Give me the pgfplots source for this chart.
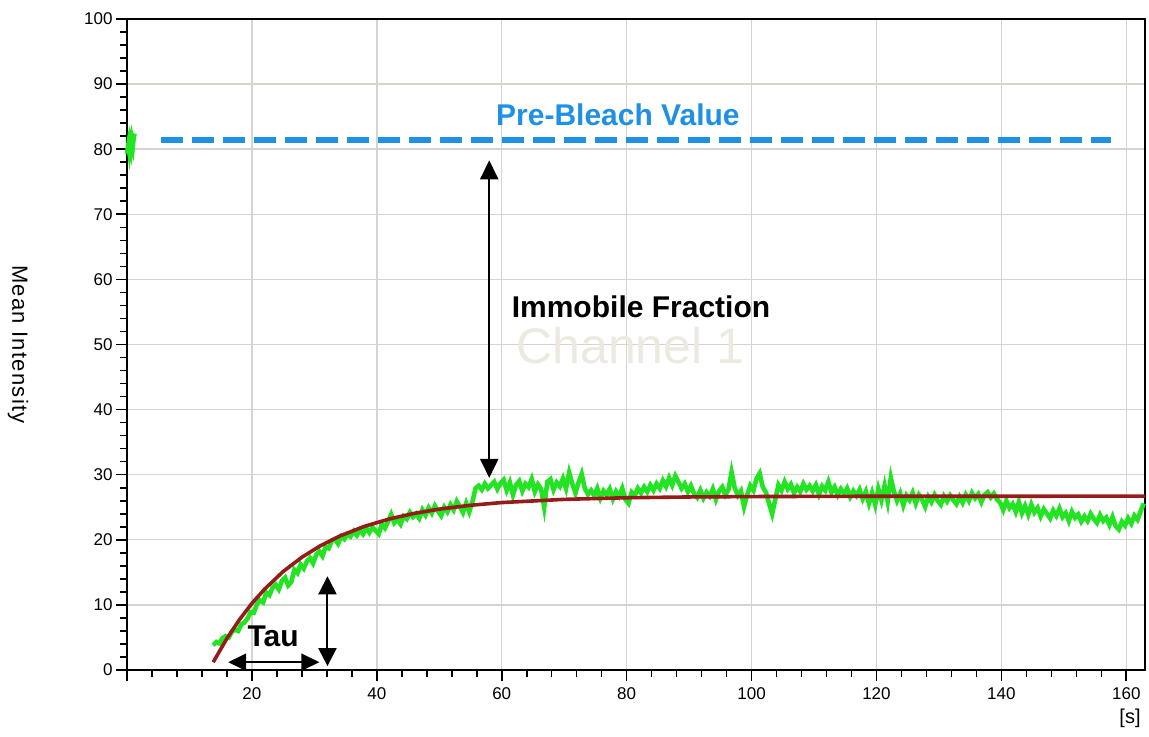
\documentclass[border=0pt]{standalone}
\usepackage{fontspec}
\setmainfont{Liberation Sans}
\usepackage{pgfplots}
\pgfplotsset{compat=1.18}
\usetikzlibrary{arrows.meta,calc}

\definecolor{gridgray}{RGB}{214,212,207}
\definecolor{recov}{RGB}{34,228,34}
\definecolor{fitred}{RGB}{150,28,28}
\definecolor{prebleach}{RGB}{30,144,230}
\definecolor{watermark}{RGB}{236,233,224}

\begin{document}
\begin{tikzpicture}
\begin{axis}[
  name=ax,
  scale only axis,
  width=509pt, height=325.5pt,
  xmin=0, xmax=163, ymin=0, ymax=100,
  xtick={0,20,40,60,80,100,120,140,160},
  xticklabels={,20,40,60,80,100,120,140,160},
  ytick={0,10,...,100},
  minor x tick num=4, minor y tick num=4,
  tick align=outside, tick pos=left,
  major tick length=5.5pt, minor tick length=3.5pt,
  every tick/.style={black, line width=0.8pt},
  axis line style={black, line width=1pt},
  xmajorgrids=true, ymajorgrids=true,
  xminorgrids=false, yminorgrids=false,
  major grid style={gridgray, line width=0.7pt},
  /pgf/number format/assume math mode=true,
  ticklabel style={font=\fontsize{8.5}{10}\selectfont},
  yticklabel style={inner sep=1.5pt},
  clip=false,
]

% fluorescence before the bleach
\addplot[recov, line width=2.3pt] coordinates {
  (0.0,79.3) (0.2,80.6) (0.35,79.6) (0.5,81.0) (0.65,80.1) (0.8,81.4)
  (0.95,80.6) (1.1,82.0) (1.25,82.4)
};

% recovery after the bleach
\addplot[recov, line width=2.3pt] coordinates {
  (13.8,3.8) (14.3,4.3) (14.8,4.1) (15.3,4.9) (15.8,5.2) (16.3,5.0)
  (16.8,5.9) (17.3,6.2) (17.8,6.0) (18.3,7.0) (18.8,7.3) (19.3,7.9)
  (19.8,8.9) (20.3,8.8) (20.8,10.1) (21.3,10.7) (21.8,10.4) (22.3,11.9)
  (22.8,11.5) (23.3,12.6) (23.8,13.1) (24.3,12.4) (24.8,13.7) (25.3,14.2)
  (25.8,13.0) (26.3,13.5) (26.8,15.4) (27.3,14.9) (27.8,16.2) (28.3,15.6)
  (28.8,16.7) (29.3,17.2) (29.8,16.4) (30.3,17.7) (30.8,18.2) (31.3,17.5)
  (31.8,18.9) (32.3,18.7) (32.8,19.9) (33.3,20.1) (33.8,19.4) (34.3,20.5)
  (34.8,20.1) (35.3,20.9) (35.8,20.5) (36.3,21.3) (36.8,20.7) (37.3,21.5)
  (37.8,20.9) (38.3,21.8) (38.8,21.1) (39.3,21.9) (39.8,21.4) (40.3,20.9)
  (40.8,22.4) (41.3,21.8) (41.8,22.8) (42.3,23.9) (42.8,22.6) (43.3,23.1)
  (43.8,22.4) (44.3,23.6) (44.8,23.2) (45.3,24.2) (45.8,23.5) (46.3,24.0)
  (46.8,23.3) (47.3,24.6) (47.8,23.8) (48.3,24.9) (48.8,24.1) (49.3,25.2)
  (49.8,24.4) (50.3,23.7) (50.8,25.0) (51.3,24.3) (51.8,25.4) (52.3,24.6)
  (52.8,25.9) (53.3,25.1) (53.8,24.2) (54.3,25.6) (54.8,24.3) (55.3,25.8)
  (55.8,27.9) (56.3,28.3) (56.8,27.7) (57.3,28.6) (57.8,27.9) (58.3,28.4)
  (58.8,28.9) (59.3,27.8) (59.8,28.7) (60.3,29.2) (60.8,27.6) (61.3,28.8)
  (61.8,26.9) (62.3,28.4) (62.8,29.0) (63.3,27.5) (63.8,28.6) (64.3,28.1)
  (64.8,29.3) (65.3,27.4) (65.8,28.5) (66.3,27.8) (66.8,25.0) (67.3,28.9)
  (67.8,29.3) (68.3,27.7) (68.8,28.8) (69.3,28.2) (69.8,29.4) (70.3,27.9)
  (70.8,30.3) (71.3,28.6) (71.8,27.2) (72.3,28.8) (72.8,30.1) (73.3,27.9)
  (73.8,27.0) (74.3,27.6) (74.8,26.8) (75.3,27.9) (75.8,26.4) (76.3,27.5)
  (76.8,26.9) (77.3,27.8) (77.8,26.3) (78.3,27.4) (78.8,26.7) (79.3,27.9)
  (79.8,26.2) (80.3,25.6) (80.8,27.3) (81.3,26.8) (81.8,27.9) (82.3,27.2)
  (82.8,28.1) (83.3,27.4) (83.8,28.4) (84.3,27.6) (84.8,28.6) (85.3,27.9)
  (85.8,29.1) (86.3,28.2) (86.8,29.5) (87.3,28.4) (87.8,29.8) (88.3,28.9)
  (88.8,27.9) (89.3,28.6) (89.8,27.4) (90.3,28.3) (90.8,27.1) (91.3,26.5)
  (91.8,27.6) (92.3,26.4) (92.8,27.3) (93.3,26.7) (93.8,27.8) (94.3,26.2)
  (94.8,27.5) (95.3,28.1) (95.8,26.9) (96.3,27.7) (96.8,30.4) (97.3,28.0)
  (97.8,26.8) (98.3,27.5) (98.8,25.1) (99.3,26.9) (99.8,28.3) (100.3,27.6)
  (100.8,29.4) (101.3,30.2) (101.8,28.1) (102.3,27.3) (102.8,25.6) (103.3,24.0)
  (103.8,26.2) (104.3,28.4) (104.8,27.6) (105.3,28.9) (105.8,27.8) (106.3,28.5)
  (106.8,27.2) (107.3,28.1) (107.8,27.4) (108.3,28.6) (108.8,27.7) (109.3,28.3)
  (109.8,27.5) (110.3,28.4) (110.8,27.0) (111.3,28.2) (111.8,27.6) (112.3,28.9)
  (112.8,27.3) (113.3,28.1) (113.8,26.9) (114.3,27.8) (114.8,27.1) (115.3,27.9)
  (115.8,26.6) (116.3,27.5) (116.8,26.8) (117.3,27.7) (117.8,26.3) (118.3,27.4)
  (118.8,25.6) (119.3,27.2) (119.8,25.4) (120.3,27.8) (120.8,26.1) (121.3,28.3)
  (121.8,25.9) (122.3,29.5) (122.8,27.4) (123.3,26.0) (123.8,27.1) (124.3,25.3)
  (124.8,26.8) (125.3,26.1) (125.8,27.2) (126.3,25.6) (126.8,26.9) (127.3,26.2)
  (127.8,25.1) (128.3,26.6) (128.8,25.8) (129.3,26.9) (129.8,26.0) (130.3,25.4)
  (130.8,26.7) (131.3,25.9) (131.8,26.8) (132.3,26.1) (132.8,25.5) (133.3,26.6)
  (133.8,25.7) (134.3,26.9) (134.8,26.0) (135.3,27.2) (135.8,26.4) (136.3,27.0)
  (136.8,25.8) (137.3,26.9) (137.8,27.3) (138.3,26.5) (138.8,27.1) (139.3,26.2)
  (139.8,25.7) (140.3,24.6) (140.8,26.0) (141.3,24.9) (141.8,25.5) (142.3,24.3)
  (142.8,25.8) (143.3,24.1) (143.8,25.2) (144.3,23.9) (144.8,25.4) (145.3,24.2)
  (145.8,24.9) (146.3,23.6) (146.8,24.7) (147.3,24.0) (147.8,23.3) (148.3,24.5)
  (148.8,23.7) (149.3,24.8) (149.8,23.5) (150.3,24.1) (150.8,22.9) (151.3,24.3)
  (151.8,23.4) (152.3,23.9) (152.8,22.8) (153.3,23.6) (153.8,22.9) (154.3,24.0)
  (154.8,23.2) (155.3,22.6) (155.8,23.8) (156.3,22.9) (156.8,23.4) (157.3,22.3)
  (157.8,23.5) (158.3,22.1) (158.8,21.6) (159.3,22.8) (159.8,22.2) (160.3,23.3)
  (160.8,22.5) (161.3,23.7) (161.8,23.1) (162.3,24.4) (162.8,25.6)
};

% exponential recovery fit
\addplot[fitred, line width=1.8pt] coordinates {
  (13.8,1.2) (16,4.85) (18,7.73) (20,10.23) (22,12.39) (25,15.12)
  (28,17.32) (31,19.10) (34,20.55) (38,22.06) (42,23.20) (46,24.06)
  (50,24.71) (55,25.30) (60,25.72) (70,26.21) (80,26.46) (90,26.58)
  (100,26.64) (120,26.69) (163,26.70)
};

% pre-bleach reference level
\addplot[prebleach, line width=3.4pt, dash pattern=on 11pt off 4.5pt] coordinates {
  (5.5,81.4) (157.6,81.4)
};

\node[text=watermark, font=\fontsize{25}{30}\selectfont] at (axis cs:80.6,49.8) {Channel 1};
\node[text=prebleach, font=\bfseries\fontsize{15}{18}\selectfont] at (axis cs:78.6,85.3) {Pre-Bleach Value};
\node[font=\bfseries\fontsize{15}{18}\selectfont] at (axis cs:82.3,55.8) {Immobile Fraction};
\node[font=\bfseries\fontsize{15}{18}\selectfont] at (axis cs:23.4,5.1) {Tau};

\draw[line width=1pt, {Triangle[width=9pt,length=9.5pt]}-{Triangle[width=9pt,length=9.5pt]}]
  (axis cs:58.0,78.3) -- (axis cs:58.0,29.5);
\draw[line width=1pt, {Triangle[width=9pt,length=9pt]}-{Triangle[width=9pt,length=9pt]}]
  (axis cs:32.1,14.4) -- (axis cs:32.1,0.6);
\draw[line width=1pt, {Triangle[width=8.5pt,length=9pt]}-{Triangle[width=8.5pt,length=9pt]}]
  (axis cs:16.2,1.2) -- (axis cs:30.8,1.2);

\node[font=\fontsize{10}{12}\selectfont] at (axis cs:160.6,0) [yshift=-24pt] {[s]};
\end{axis}
\node[rotate=-90, font=\addfontfeature{LetterSpace=6}\fontsize{11}{13}\selectfont]
  at ($(ax.west)+(-54.5pt,0)$) {Mean Intensity};
\pgfresetboundingbox
\path ($(ax.south west)+(-63.5pt,-33.5pt)$) rectangle ($(ax.north east)+(2pt,9.5pt)$);
\end{tikzpicture}
\end{document}
